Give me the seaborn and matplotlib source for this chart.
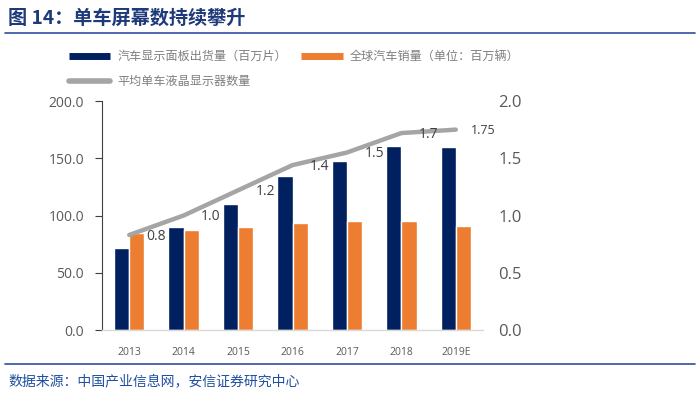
import numpy as np
import pandas as pd
import matplotlib
matplotlib.use("Agg")
import matplotlib.pyplot as plt
from matplotlib.lines import Line2D
import seaborn as sns

years = ["2013", "2014", "2015", "2016", "2017", "2018", "2019E"]
panel_shipments = [71.5, 89.7, 109.8, 134.5, 147.3, 161.0, 160.0]
car_sales = [85.0, 87.6, 89.7, 93.2, 95.0, 95.0, 90.8]
screens_per_car = [0.83, 1.0, 1.22, 1.44, 1.55, 1.72, 1.75]
screen_labels = ["0.8", "1.0", "1.2", "1.4", "1.5", "1.7", "1.75"]

s1 = "汽车显示面板出货量（百万片）"
s2 = "全球汽车销量（单位：百万辆）"
s3 = "平均单车液晶显示器数量"

sns.set_theme(style="white")
plt.rcParams['font.family'] = ['Noto Sans CJK SC', 'DejaVu Sans']

navy = "#002060"
orange = "#ED7D31"
gray = "#A5A5A5"
tick_col = "#595959"
title_col = "#1F3A7A"

df = pd.DataFrame({
    "year": years * 2,
    "value": panel_shipments + car_sales,
    "series": [s1] * len(years) + [s2] * len(years),
})
df_line = pd.DataFrame({"pos": np.arange(len(years)), "v": screens_per_car})

fig = plt.figure(figsize=(7.0, 3.97), dpi=100)
ax = fig.add_axes([102 / 700, 1 - 330 / 397, (483 - 102) / 700, (330 - 101) / 397])

sns.barplot(data=df, x="year", y="value", hue="series", palette=[navy, orange],
            width=0.56, ax=ax, legend=False, saturation=1)
ax.set_xlim(-0.5, 6.5)
ax.set_ylim(0, 200)
ax.set_yticks([0, 50, 100, 150, 200])
ax.set_yticklabels([f"{v:.1f}" for v in [0, 50, 100, 150, 200]], fontsize=10,
                   color=tick_col, family=['Open Sans', 'DejaVu Sans'])
ax.set_xticks(range(len(years)))
ax.set_xticklabels(years, fontsize=7.5, color=tick_col, family=['Open Sans', 'DejaVu Sans'])
ax.set_xlabel("")
ax.set_ylabel("")
for sp in ["top", "right"]:
    ax.spines[sp].set_visible(False)
ax.spines["left"].set_color("#404040")
ax.spines["left"].set_linewidth(0.8)
ax.spines["bottom"].set_color("#D9D9D9")
ax.spines["bottom"].set_linewidth(1.0)
ax.tick_params(axis="y", left=True, length=5, width=0.8, color="#404040", pad=8)
ax.tick_params(axis="x", bottom=False, pad=6)

ax2 = ax.twinx()
sns.lineplot(data=df_line, x="pos", y="v", color=gray, linewidth=3.2, ax=ax2)
ax2.set_ylim(0, 2.0)
ax2.set_yticks([0, 0.5, 1.0, 1.5, 2.0])
ax2.set_yticklabels([f"{v:.1f}" for v in [0, 0.5, 1.0, 1.5, 2.0]], fontsize=12,
                    color=tick_col, family=['Open Sans', 'DejaVu Sans'])
ax2.tick_params(axis="y", right=False, length=0, pad=11)
ax2.set_ylabel("")
ax2.set_xlim(-0.5, 6.5)
for sp in ["top", "right", "left", "bottom"]:
    ax2.spines[sp].set_visible(False)
for i, (v, lab) in enumerate(zip(screens_per_car, screen_labels)):
    fs = 9 if i == len(years) - 1 else 10
    ax2.text(i + 0.5, v - 0.01, lab, ha="center", va="center", fontsize=fs,
             color="#404040", family=['Open Sans', 'DejaVu Sans'])

handles = [Line2D([], [], color=navy, lw=5, solid_capstyle="butt"),
           Line2D([], [], color=gray, lw=4, solid_capstyle="round"),
           Line2D([], [], color=orange, lw=5, solid_capstyle="butt")]
labels = [s1, s3, s2]
leg = fig.legend(handles, labels, ncol=2, loc="upper left",
                 bbox_to_anchor=(58 / 700, 1 - 39 / 397), frameon=False,
                 fontsize=8.7, handlelength=3.4, handletextpad=0.6,
                 columnspacing=1.2, labelspacing=1.0)
for t in leg.get_texts():
    t.set_color("#7F7F7F")

fig.text(8 / 700, 1 - 18 / 397, "图 14：单车屏幕数持续攀升", fontsize=13.8,
         fontweight="bold", color=title_col, va="center", ha="left")
fig.add_artist(Line2D([5 / 700, 695 / 700], [1 - 33 / 397] * 2, color="#2F4F9F", lw=1.2))
fig.add_artist(Line2D([5 / 700, 695 / 700], [1 - 364 / 397] * 2, color="#2F4F9F", lw=1.2))
fig.text(8 / 700, 1 - 381 / 397, "数据来源：中国产业信息网，安信证券研究中心", fontsize=10,
         color="#1F4FA0", va="center", ha="left")

fig.savefig("out.png", dpi=100)
